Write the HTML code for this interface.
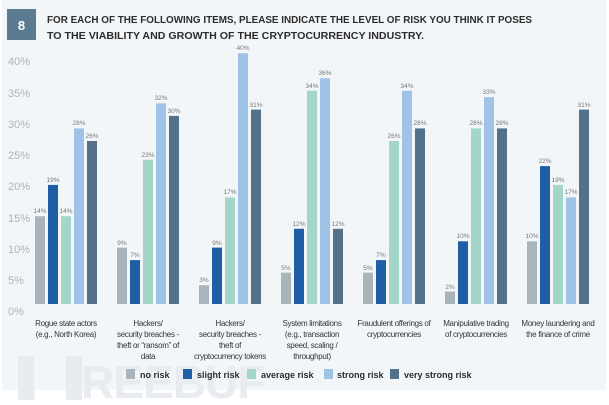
<!DOCTYPE html>
<html><head><meta charset="utf-8"><style>
body{margin:0;width:609px;height:400px;background:#fff;overflow:hidden;font-family:"Liberation Sans",sans-serif}
.a{fill:#a9b5bb}.b{fill:#1f5ea7}.c{fill:#a3d5c8}.d{fill:#9fc3e6}.e{fill:#53728a}
.v{font-size:6.5px;fill:#777;text-anchor:middle}
</style></head><body>
<svg width="609" height="400" xmlns="http://www.w3.org/2000/svg" font-family="Liberation Sans, sans-serif">
<rect x="2" y="0" width="604" height="390" fill="#f3f6f9"/>
<text x="18" y="398" font-size="46" font-weight="bold" fill="#e8ebef" letter-spacing="-1">▌▐REEBUF</text>
<rect x="7" y="9" width="29" height="31" fill="#5b7b91"/>
<text x="21.5" y="30" font-size="13" fill="#fff" text-anchor="middle" font-weight="bold">8</text>
<text x="47" y="23" font-size="10.4" font-weight="bold" fill="#2c2c2c" textLength="485" lengthAdjust="spacingAndGlyphs">FOR EACH OF THE FOLLOWING ITEMS, PLEASE INDICATE THE LEVEL OF RISK YOU THINK IT POSES</text>
<text x="47" y="39" font-size="10.4" font-weight="bold" fill="#2c2c2c" textLength="377" lengthAdjust="spacingAndGlyphs">TO THE VIABILITY AND GROWTH OF THE CRYPTOCURRENCY INDUSTRY.</text>
<g font-size="11" fill="#aeb3b8">
<text x="8" y="315">0%</text><text x="8" y="284">5%</text><text x="8" y="253">10%</text><text x="8" y="222">15%</text><text x="8" y="190">20%</text><text x="8" y="159">25%</text><text x="8" y="128">30%</text><text x="8" y="97">35%</text><text x="8" y="65">40%</text>
</g>
<g>
<rect class="a" x="35" y="216.2" width="10" height="87.8"/><rect class="b" x="48" y="184.9" width="10" height="119.1"/><rect class="c" x="61" y="216.2" width="10" height="87.8"/><rect class="d" x="74" y="128.4" width="10" height="175.6"/><rect class="e" x="87" y="141" width="10" height="163"/>
<rect class="a" x="117" y="247.6" width="10" height="56.4"/><rect class="b" x="130" y="260.1" width="10" height="43.9"/><rect class="c" x="143" y="159.8" width="10" height="144.2"/><rect class="d" x="156" y="103.4" width="10" height="200.6"/><rect class="e" x="169" y="115.9" width="10" height="188.1"/>
<rect class="a" x="199" y="285.2" width="10" height="18.8"/><rect class="b" x="212" y="247.6" width="10" height="56.4"/><rect class="c" x="225" y="197.4" width="10" height="106.6"/><rect class="d" x="238" y="53.2" width="10" height="250.8"/><rect class="e" x="251" y="109.6" width="10" height="194.4"/>
<rect class="a" x="281" y="272.6" width="10" height="31.4"/><rect class="b" x="294" y="228.8" width="10" height="75.2"/><rect class="c" x="307" y="90.8" width="10" height="213.2"/><rect class="d" x="320" y="78.3" width="10" height="225.7"/><rect class="e" x="333" y="228.8" width="10" height="75.2"/>
<rect class="a" x="363" y="272.6" width="10" height="31.4"/><rect class="b" x="376" y="260.1" width="10" height="43.9"/><rect class="c" x="389" y="141" width="10" height="163"/><rect class="d" x="402" y="90.8" width="10" height="213.2"/><rect class="e" x="415" y="128.4" width="10" height="175.6"/>
<rect class="a" x="445" y="291.5" width="10" height="12.5"/><rect class="b" x="458" y="241.3" width="10" height="62.7"/><rect class="c" x="471" y="128.4" width="10" height="175.6"/><rect class="d" x="484" y="97.1" width="10" height="206.9"/><rect class="e" x="497" y="128.4" width="10" height="175.6"/>
<rect class="a" x="527" y="241.3" width="10" height="62.7"/><rect class="b" x="540" y="166.1" width="10" height="137.9"/><rect class="c" x="553" y="184.9" width="10" height="119.1"/><rect class="d" x="566" y="197.4" width="10" height="106.6"/><rect class="e" x="579" y="109.6" width="10" height="194.4"/>
</g>
<g class="v">
<text x="40" y="213">14%</text><text x="53" y="182">19%</text><text x="66" y="213">14%</text><text x="79" y="125">28%</text><text x="92" y="138">26%</text>
<text x="122" y="245">9%</text><text x="135" y="257">7%</text><text x="148" y="157">23%</text><text x="161" y="100">32%</text><text x="174" y="113">30%</text>
<text x="204" y="282">3%</text><text x="217" y="245">9%</text><text x="230" y="194">17%</text><text x="243" y="50">40%</text><text x="256" y="107">31%</text>
<text x="286" y="270">5%</text><text x="299" y="226">12%</text><text x="312" y="88">34%</text><text x="325" y="75">36%</text><text x="338" y="226">12%</text>
<text x="368" y="270">5%</text><text x="381" y="257">7%</text><text x="394" y="138">26%</text><text x="407" y="88">34%</text><text x="420" y="125">28%</text>
<text x="450" y="289">2%</text><text x="463" y="238">10%</text><text x="476" y="125">28%</text><text x="489" y="94">33%</text><text x="502" y="125">28%</text>
<text x="532" y="238">10%</text><text x="545" y="163">22%</text><text x="558" y="182">19%</text><text x="571" y="194">17%</text><text x="584" y="107">31%</text>
</g>
<g font-size="8" fill="#333" text-anchor="middle" letter-spacing="-0.3">
<text x="66" y="326">Rogue state actors</text><text x="66" y="337">(e.g., North Korea)</text>
<text x="148" y="326">Hackers/</text><text x="148" y="337">security breaches -</text><text x="148" y="348">theft or “ransom” of</text><text x="148" y="359">data</text>
<text x="230" y="326">Hackers/</text><text x="230" y="337">security breaches -</text><text x="230" y="348">theft of</text><text x="230" y="359">cryptocurrency tokens</text>
<text x="312" y="326">System limitations</text><text x="312" y="337">(e.g., transaction</text><text x="312" y="348">speed, scaling /</text><text x="312" y="359">throughput)</text>
<text x="394" y="326">Fraudulent offerings of</text><text x="394" y="337">cryptocurrencies</text>
<text x="476" y="326">Manipulative trading</text><text x="476" y="337">of cryptocurrencies</text>
<text x="558" y="326">Money laundering and</text><text x="558" y="337">the finance of crime</text>
</g>
<g font-size="9" font-weight="bold" fill="#2c2c2c">
<rect x="126" y="369" width="9" height="10" fill="#a9b5bb"/><text x="140" y="378">no risk</text>
<rect x="183" y="369" width="9" height="10" fill="#1f5ea7"/><text x="197" y="378">slight risk</text>
<rect x="247" y="369" width="9" height="10" fill="#a3d5c8"/><text x="261" y="378">average risk</text>
<rect x="324" y="369" width="9" height="10" fill="#9fc3e6"/><text x="337" y="378">strong risk</text>
<rect x="390" y="369" width="9" height="10" fill="#53728a"/><text x="404" y="378">very strong risk</text>
</g>
</svg>
</body></html>
